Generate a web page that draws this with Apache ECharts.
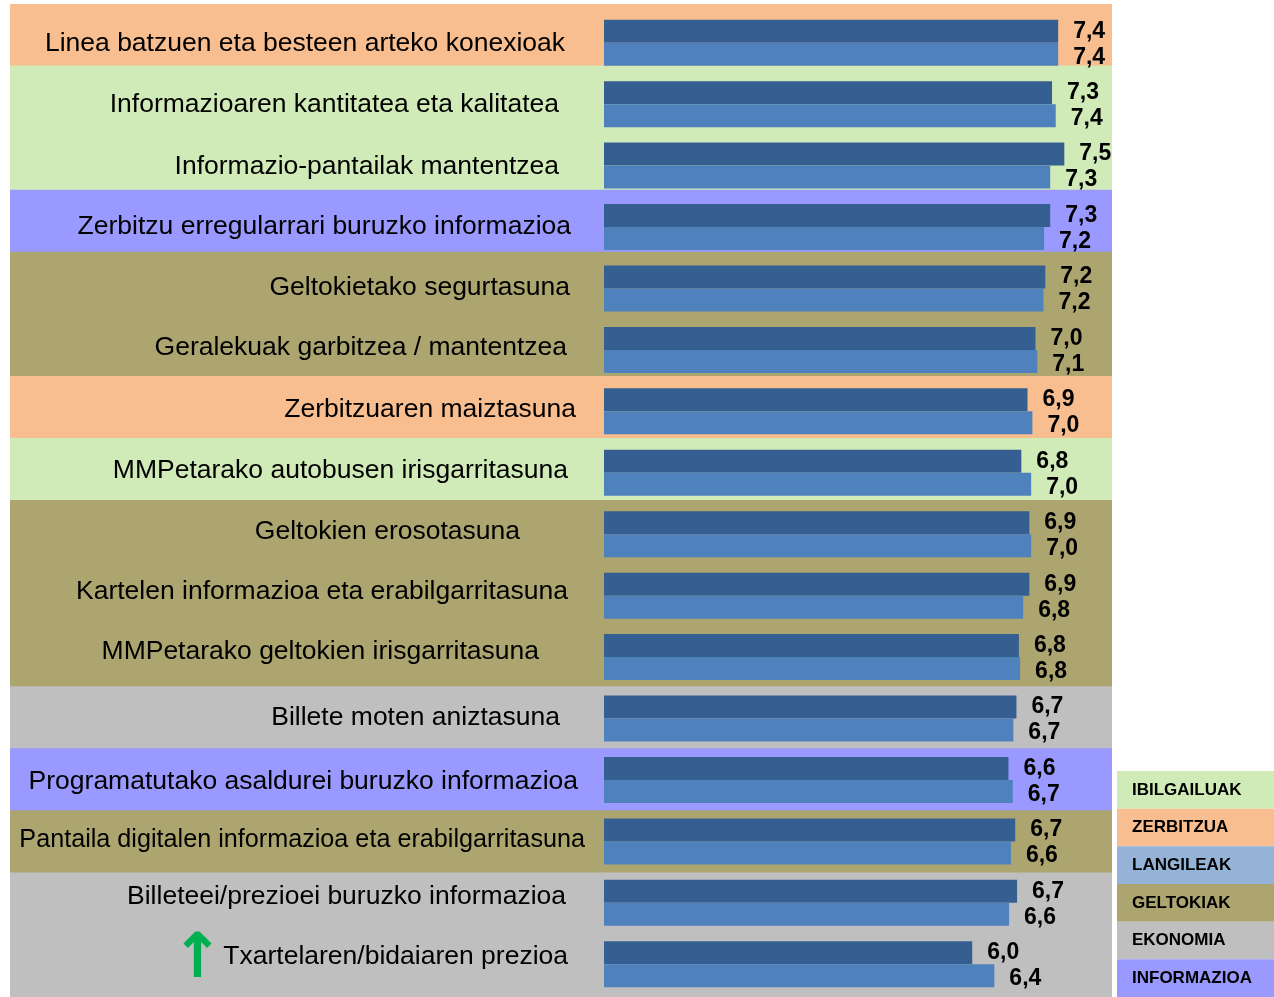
<!DOCTYPE html>
<html>
<head>
<meta charset="utf-8">
<script src="https://cdn.jsdelivr.net/npm/echarts@6/dist/echarts.min.js"></script>
<style>
html, body { margin: 0; padding: 0; background: #fff; }
#main { width: 1274px; height: 997px; }
</style>
</head>
<body>
<div id="main"></div>
<script>
var categories = [
    'Linea batzuen eta besteen arteko konexioak',
    'Informazioaren kantitatea eta kalitatea',
    'Informazio-pantailak mantentzea',
    'Zerbitzu erregularrari buruzko informazioa',
    'Geltokietako segurtasuna',
    'Geralekuak garbitzea / mantentzea',
    'Zerbitzuaren maiztasuna',
    'MMPetarako autobusen irisgarritasuna',
    'Geltokien erosotasuna',
    'Kartelen informazioa eta erabilgarritasuna',
    'MMPetarako geltokien irisgarritasuna',
    'Billete moten aniztasuna',
    'Programatutako asaldurei buruzko informazioa',
    'Pantaila digitalen informazioa eta erabilgarritasuna',
    'Billeteei/prezioei buruzko informazioa',
    'Txartelaren/bidaiaren prezioa'
];
// top (dark) bar and bottom (light) bar of each row
var seriesA = [7.40, 7.30, 7.50, 7.27, 7.19, 7.03, 6.90, 6.80, 6.93, 6.93, 6.76, 6.72, 6.59, 6.70, 6.73, 6.00];
var seriesB = [7.40, 7.36, 7.27, 7.17, 7.16, 7.06, 6.98, 6.96, 6.96, 6.83, 6.78, 6.67, 6.66, 6.63, 6.60, 6.36];
var rowGroups = [
    'ZERBITZUA', 'IBILGAILUAK', 'IBILGAILUAK', 'INFORMAZIOA', 'GELTOKIAK', 'GELTOKIAK',
    'ZERBITZUA', 'IBILGAILUAK', 'GELTOKIAK', 'GELTOKIAK', 'GELTOKIAK', 'EKONOMIA',
    'INFORMAZIOA', 'GELTOKIAK', 'EKONOMIA', 'EKONOMIA'
];
var groupNames = ['IBILGAILUAK', 'ZERBITZUA', 'LANGILEAK', 'GELTOKIAK', 'EKONOMIA', 'INFORMAZIOA'];
var groupColors = {
    IBILGAILUAK: '#D1EBB8',
    ZERBITZUA: '#F8BE90',
    LANGILEAK: '#95B3D7',
    GELTOKIAK: '#ADA56F',
    EKONOMIA: '#BFBFBF',
    INFORMAZIOA: '#9999FF'
};
var arrowRow = 15;

// label placement tweaks (px): move left from the common right edge, move up
var labelPadRight = [20, 26, 26, 14, 15, 18, 9, 17, 65, 17, 46, 25, 7, 0, 19, 17];
var labelUp = [-1, -1, -1, 0, 1, 2, 2, 2, 3, 4, 5, 1, -2, 1, 6, 8];
var labelSize = { 13: 25.2 };

function fmt(v) {
    return v.toFixed(1).replace('.', ',');
}

var rich = {};
categories.forEach(function (c, i) {
    var up = labelUp[i];
    rich['r' + i] = {
        fontSize: labelSize[i] || 26.5,
        fontFamily: 'Liberation Sans, Arial, sans-serif',
        color: '#000',
        padding: [up < 0 ? -2 * up : 0, labelPadRight[i], up > 0 ? 2 * up : 0, 0]
    };
});
rich.arr = {
    fontSize: 62,
    fontWeight: 'bold',
    fontFamily: 'DejaVu Sans',
    color: '#00B050',
    width: 38,
    padding: [0, 0, 6, 0]
};

var chart = echarts.init(document.getElementById('main'));

var valueLabel = {
    show: true,
    position: 'right',
    distance: 15,
    fontSize: 23,
    fontWeight: 'bold',
    fontFamily: 'Liberation Sans, Arial, sans-serif',
    color: '#000',
    formatter: function (p) { return fmt(p.value); }
};

var option = {
    animation: false,
    grid: [
        { left: 10, top: 4, width: 1102, height: 993 },
        { left: 604, top: 12, width: 491, height: 983 },
        { left: 1117, top: 771, width: 157, height: 226 }
    ],
    xAxis: [
        { gridIndex: 0, type: 'value', min: 0, max: 1, show: false },
        { gridIndex: 1, type: 'value', min: 0, max: 8, show: false },
        { gridIndex: 2, type: 'value', min: 0, max: 1, show: false }
    ],
    yAxis: [
        { gridIndex: 0, type: 'category', inverse: true, data: categories, show: false },
        {
            gridIndex: 1,
            type: 'category',
            inverse: true,
            data: categories,
            z: 10,
            axisLine: { show: false },
            axisTick: { show: false },
            axisLabel: {
                margin: 19,
                fontSize: 26.5,
                fontFamily: 'Liberation Sans, Arial, sans-serif',
                color: '#000',
                formatter: function (name, i) {
                    var s = '{r' + i + '|' + name + '}';
                    return i === arrowRow ? '{arr|↑}' + s : s;
                },
                rich: rich
            }
        },
        { gridIndex: 2, type: 'category', inverse: true, data: groupNames, show: false }
    ],
    series: [
        {
            type: 'bar',
            xAxisIndex: 0,
            yAxisIndex: 0,
            barWidth: 63,
            silent: true,
            z: 1,
            data: rowGroups.map(function (g) {
                return { value: 1, itemStyle: { color: groupColors[g] } };
            })
        },
        {
            type: 'bar',
            xAxisIndex: 1,
            yAxisIndex: 1,
            barWidth: 23,
            barGap: '0%',
            z: 3,
            itemStyle: { color: '#365F91' },
            label: Object.assign({}, valueLabel, { offset: [0, 0] }),
            data: seriesA
        },
        {
            type: 'bar',
            xAxisIndex: 1,
            yAxisIndex: 1,
            barWidth: 23,
            barGap: '0%',
            z: 3,
            itemStyle: { color: '#4F81BD' },
            label: Object.assign({}, valueLabel, { offset: [0, 3] }),
            data: seriesB
        },
        {
            type: 'bar',
            xAxisIndex: 2,
            yAxisIndex: 2,
            barWidth: '100%',
            silent: true,
            z: 3,
            label: {
                show: true,
                position: 'insideLeft',
                distance: 15,
                fontSize: 17,
                fontWeight: 'bold',
                fontFamily: 'Liberation Sans, Arial, sans-serif',
                color: '#000',
                formatter: function (p) { return groupNames[p.dataIndex]; }
            },
            data: groupNames.map(function (g) {
                return { value: 1, itemStyle: { color: groupColors[g] } };
            })
        }
    ]
};

chart.setOption(option);

window.onresize = chart.resize;
</script>
</body>
</html>
